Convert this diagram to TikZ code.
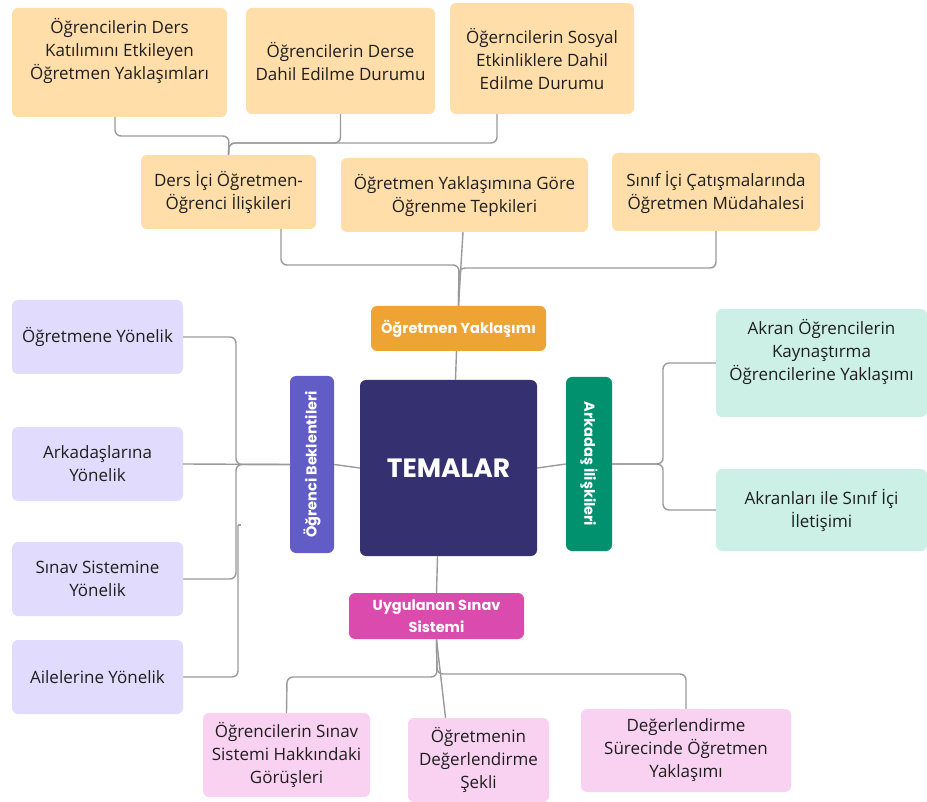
\documentclass[tikz,border=0pt]{standalone}
\usepackage{fontspec}
\setmainfont{Open Sans}
\newfontfamily\hdfont{Poppins}
\definecolor{leafor}{HTML}{FFDEA9}
\definecolor{catorange}{HTML}{EDA435}
\definecolor{navy}{HTML}{353070}
\definecolor{bluepurple}{HTML}{625DC6}
\definecolor{greencat}{HTML}{01916E}
\definecolor{mint}{HTML}{CCF0E6}
\definecolor{lavender}{HTML}{E1DCFD}
\definecolor{magentacat}{HTML}{DB4AAD}
\definecolor{pinkleaf}{HTML}{F9D2F1}
\definecolor{linegray}{HTML}{9A9A9A}
\definecolor{txtdark}{HTML}{1E1E1E}
\tikzset{
  boxbase/.style={rounded corners=6pt, inner sep=0pt, align=center},
  leaf/.style={boxbase, fill=#1, text=txtdark, font=\fontsize{17}{23}\selectfont},
  cat/.style={boxbase, fill=#1, text=white, font=\hdfont\bfseries\fontsize{14.5}{22}\selectfont},
  leaftext/.style={inner sep=0pt, align=center, text=txtdark, font=\fontsize{17}{23}\selectfont},
  conn/.style={draw=linegray, line width=1.4pt, rounded corners=6pt}
}
\begin{document}
\begin{tikzpicture}[x=1pt,y=-1pt]
\useasboundingbox (0,0) rectangle (927,802);
% top row
\node[leaf=leafor, minimum width=215, minimum height=109] (A1) at (119.5,62.5) {};
\node[leaftext] (A1t) at (119.5,51) {Öğrencilerin Ders\\Katılımını Etkileyen\\Öğretmen Yaklaşımları};
\node[leaf=leafor, minimum width=189, minimum height=106] (A2) at (340.5,61) {Öğrencilerin Derse\\Dahil Edilme Durumu};
\node[leaf=leafor, minimum width=184, minimum height=111] (A3) at (542,58.5) {Öğerncilerin Sosyal\\Etkinliklere Dahil\\Edilme Durumu};
% second row
\node[leaf=leafor, minimum width=175, minimum height=74] (B1) at (228.5,192) {Ders İçi Öğretmen-\\Öğrenci İlişkileri};
\node[leaf=leafor, minimum width=247, minimum height=74] (B2) at (464.5,195) {Öğretmen Yaklaşımına Göre\\Öğrenme Tepkileri};
\node[leaf=leafor, minimum width=208, minimum height=78] (B3) at (716,192) {Sınıf İçi Çatışmalarında\\Öğretmen Müdahalesi};
% categories
\node[cat=catorange, minimum width=175, minimum height=45] (C) at (458.5,328.5) {Öğretmen Yaklaşımı};
\node[boxbase, fill=navy, text=white, minimum width=177, minimum height=176, font=\hdfont\bfseries\fontsize{26.5}{30}\selectfont] (T) at (448.5,468) {TEMALAR};
\node[cat=bluepurple, minimum width=44, minimum height=177] (OB) at (312,464.5) {};
\node[rotate=90, text=white, inner sep=0pt, font=\hdfont\bfseries\fontsize{14.5}{22}\selectfont] (OBt) at (312,464.5) {Öğrenci Beklentileri};
\node[cat=greencat, minimum width=46, minimum height=174] (AI) at (589,464) {};
\node[rotate=-90, text=white, inner sep=0pt, font=\hdfont\bfseries\fontsize{14.5}{22}\selectfont] (AIt) at (589,464) {Arkadaş İlişkileri};
\node[cat=magentacat, minimum width=175, minimum height=46] (U) at (436.5,616) {Uygulanan Sınav\\Sistemi};
% left leaves
\node[leaf=lavender, minimum width=171, minimum height=74] (L1) at (97.5,337) {Öğretmene Yönelik};
\node[leaf=lavender, minimum width=171, minimum height=74] (L2) at (97.5,464) {Arkadaşlarına\\Yönelik};
\node[leaf=lavender, minimum width=171, minimum height=74] (L3) at (97.5,579) {Sınav Sistemine\\Yönelik};
\node[leaf=lavender, minimum width=171, minimum height=74] (L4) at (97.5,677) {Ailelerine Yönelik};
% right leaves
\node[leaf=mint, minimum width=211, minimum height=108] (R1) at (821.5,363) {};
\node[leaftext] (R1t) at (821.5,352) {Akran Öğrencilerin\\Kaynaştırma\\Öğrencilerine Yaklaşımı};
\node[leaf=mint, minimum width=211, minimum height=82] (R2) at (821.5,510) {Akranları ile Sınıf İçi\\İletişimi};
% bottom leaves
\node[leaf=pinkleaf, minimum width=167, minimum height=84] (D1) at (286.5,755) {Öğrencilerin Sınav\\Sistemi Hakkındaki\\Görüşleri};
\node[leaf=pinkleaf, minimum width=141, minimum height=84] (D2) at (478.5,760) {Öğretmenin\\Değerlendirme\\Şekli};
\node[leaf=pinkleaf, minimum width=210, minimum height=83] (D3) at (686,750.5) {Değerlendirme\\Sürecinde Öğretmen\\Yaklaşımı};
% connectors top
\draw[conn] ([xshift=-4.5]A1.south) -- (115,136) -- (229,136) -- (B1.north);
\draw[conn] (A2.south) -- (340.5,143) -- (229,143) -- (B1.north);
\draw[conn] ([xshift=-45]A3.south) -- (497,143) -- (229,143) -- (B1.north);
% connectors middle
\draw[conn] ([xshift=52.5]B1.south) -- (281,265) -- (459,265) -- (C.north);
\draw[conn] ([xshift=-1.5]B2.south) -- (C.north);
\draw[conn] (B3.south) -- (716,268) -- (459,268) -- (C.north);
\draw[conn] ([xshift=-2]C.south) -- ([xshift=7]T.north);
% left
\draw[conn] (T.west) -- (OB.east);
\draw[conn] (L1.east) -- (236,337) -- (236,464.5) -- (OB.west);
\draw[conn] (L2.east) -- (OB.west);
\draw[conn] (L3.east) -- (236,579) -- (236,464.5) -- (OB.west);
\draw[conn] (L4.east) -- (238,677) -- (238,525);
\draw[conn] (238,525) -- (241,525);
% right
\draw[conn] (T.east) -- (AI.west);
\draw[conn] (AI.east) -- (663,464) -- (663,363) -- (R1.west);
\draw[conn] (AI.east) -- (663,464) -- (663,510) -- (R2.west);
% bottom
\draw[conn] ([xshift=-11]T.south) -- (U.north);
\draw[conn] (U.south) -- (437,677) -- (287,677) -- (D1.north);
\draw[conn] (U.south) -- ([xshift=-33]D2.north);
\draw[conn] (U.south) -- (437,674) -- (686,674) -- (D3.north);
\end{tikzpicture}
\end{document}
